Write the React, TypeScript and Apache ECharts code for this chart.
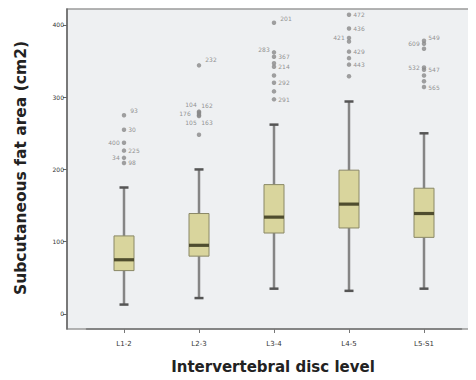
import React, { useEffect, useRef } from "react";
import * as echarts from "echarts";

const categories = ["L1-2", "L2-3", "L3-4", "L4-5", "L5-S1"];
const boxMin = [13, 22, 35, 32, 35];
const boxQ1 = [60, 80, 112, 119, 106];
const boxMedian = [75, 95, 134, 152, 139];
const boxQ3 = [108, 139, 179, 199, 174];
const boxMax = [175, 200, 262, 294, 250];
const yTicks = [0, 100, 200, 300, 400];

// outliers: [category index, value, label, label side, label dx, label dy]
type Out = [number, number, string, string, number, number];
const outliersL12: Out[] = [
  [0, 275, "93", "right", 2, -5], [0, 255, "30", "right", 0, 0], [0, 237, "400", "left", 0, 0],
  [0, 226, "225", "right", 0, 0], [0, 216, "34", "left", 0, 0], [0, 209, "98", "right", 0, 0],
];
const outliersL23: Out[] = [
  [1, 344, "232", "right", 2, -6], [1, 280, "104", "left", 2, -7], [1, 279, "162", "right", -2, -7],
  [1, 277, "176", "left", -4, 0], [1, 275, "105", "left", 2, 7], [1, 274, "163", "right", -2, 7],
  [1, 248, "", "right", 0, 0],
];
const outliersL34: Out[] = [
  [2, 403, "201", "right", 2, -4], [2, 362, "283", "left", 0, -3], [2, 356, "367", "right", 0, 0],
  [2, 347, "", "right", 0, 0], [2, 342, "214", "right", 0, 0], [2, 330, "", "right", 0, 0],
  [2, 320, "292", "right", 0, 0], [2, 308, "", "right", 0, 0], [2, 297, "291", "right", 0, 0],
];
const outliersL45: Out[] = [
  [3, 414, "472", "right", 0, 0], [3, 395, "436", "right", 0, 0], [3, 382, "421", "left", 0, 0],
  [3, 377, "", "right", 0, 0], [3, 363, "429", "right", 0, 0], [3, 354, "", "right", 0, 0],
  [3, 345, "443", "right", 0, 0], [3, 329, "", "right", 0, 0],
];
const outliersL5S1: Out[] = [
  [4, 378, "549", "right", 0, -3], [4, 374, "609", "left", 0, 0], [4, 367, "", "right", 0, 0],
  [4, 341, "532", "left", 0, 0], [4, 338, "547", "right", 0, 0], [4, 330, "", "right", 0, 0],
  [4, 322, "", "right", 0, 0], [4, 314, "565", "right", 0, 0],
];

export default function App() {
  const ref = useRef<HTMLDivElement>(null);
  useEffect(() => {
    if (!ref.current) return;
    const chart = echarts.init(ref.current, null, { renderer: "svg" });
    const boxData = categories.map((_, i) => [i, boxMin[i], boxQ1[i], boxMedian[i], boxQ3[i], boxMax[i]]);
    const allOutliers = [...outliersL12, ...outliersL23, ...outliersL34, ...outliersL45, ...outliersL5S1];
    const left = 86.5, right = 14.5, top = 9, bottom = 51;
    chart.setOption({
      animation: false,
      backgroundColor: "#ffffff",
      graphic: [
        {
          type: "rect",
          z: -10,
          shape: { x: 67, y: 9, width: 405, height: 320 },
          style: { fill: "#eef0f2", stroke: "#9a9a9a", lineWidth: 1.5 },
          silent: true,
        },
        {
          type: "text",
          x: 273, y: 367,
          style: {
            text: "Intervertebral disc level",
            font: "bold 15px 'DejaVu Sans'",
            fill: "#222", align: "center", verticalAlign: "middle",
          },
        },
        {
          type: "text",
          x: 21, y: 168, rotation: Math.PI / 2,
          style: {
            text: "Subcutaneous fat area (cm2)",
            font: "bold 15.5px 'DejaVu Sans'",
            fill: "#222", align: "center", verticalAlign: "middle",
          },
        },
      ],
      grid: { left, right, top, bottom },
      xAxis: {
        type: "category",
        data: categories,
        boundaryGap: true,
        axisLine: { show: true, onZero: false, lineStyle: { color: "#777", width: 1.5 } },
        axisTick: { show: true, alignWithLabel: true, length: 4, lineStyle: { color: "#777" } },
        axisLabel: { fontSize: 7, color: "#333", margin: 11, fontFamily: "DejaVu Sans" },
        splitLine: { show: false },
      },
      yAxis: {
        type: "value",
        min: -20.8,
        max: 422,
        offset: 19.5,
        axisLine: { show: true, lineStyle: { color: "#666", width: 1.5 } },
        axisTick: { show: true, length: 4, customValues: yTicks, lineStyle: { color: "#666" } },
        axisLabel: { fontSize: 6, color: "#333", margin: 3, customValues: yTicks, fontFamily: "DejaVu Sans" },
        splitLine: { show: false },
      },
      series: [
        {
          type: "custom",
          data: boxData,
          encode: { x: 0, y: [1, 2, 3, 4, 5] },
          renderItem: (params: any, api: any) => {
            const x = api.value(0);
            const pMin = api.coord([x, api.value(1)]);
            const pQ1 = api.coord([x, api.value(2)]);
            const pMed = api.coord([x, api.value(3)]);
            const pQ3 = api.coord([x, api.value(4)]);
            const pMax = api.coord([x, api.value(5)]);
            const cx = pMin[0];
            const bw = 20;
            const cap = 9;
            const whiskerStyle = { stroke: "#858585", lineWidth: 2.5 };
            const capStyle = { stroke: "#555", lineWidth: 2.5 };
            return {
              type: "group",
              children: [
                { type: "line", shape: { x1: cx, y1: pMin[1], x2: cx, y2: pQ1[1] }, style: whiskerStyle },
                { type: "line", shape: { x1: cx, y1: pQ3[1], x2: cx, y2: pMax[1] }, style: whiskerStyle },
                { type: "line", shape: { x1: cx - cap / 2, y1: pMin[1], x2: cx + cap / 2, y2: pMin[1] }, style: capStyle },
                { type: "line", shape: { x1: cx - cap / 2, y1: pMax[1], x2: cx + cap / 2, y2: pMax[1] }, style: capStyle },
                {
                  type: "rect",
                  shape: { x: cx - bw / 2, y: pQ3[1], width: bw, height: pQ1[1] - pQ3[1] },
                  style: { fill: "#d9d59d", stroke: "#8a8866", lineWidth: 1 },
                },
                {
                  type: "rect",
                  shape: { x: cx - bw / 2, y: pMed[1] - 1.6, width: bw, height: 3.2 },
                  style: { fill: "#4f4d2e" },
                },
              ],
            };
          },
        },
        {
          type: "scatter",
          data: allOutliers.map((o) => ({
            value: [o[0], o[1]],
            label: { show: o[2] !== "", formatter: o[2], position: o[3], offset: [o[4], o[5]] },
          })),
          symbol: "circle",
          symbolSize: 4.5,
          itemStyle: { color: "#8a8a8a" },
          label: { fontSize: 6, color: "#777", distance: 2, fontFamily: "DejaVu Sans" },
        },
      ],
    });
    return () => chart.dispose();
  }, []);
  return <div ref={ref} style={{ width: 476, height: 380, margin: -8 }} />;
}
